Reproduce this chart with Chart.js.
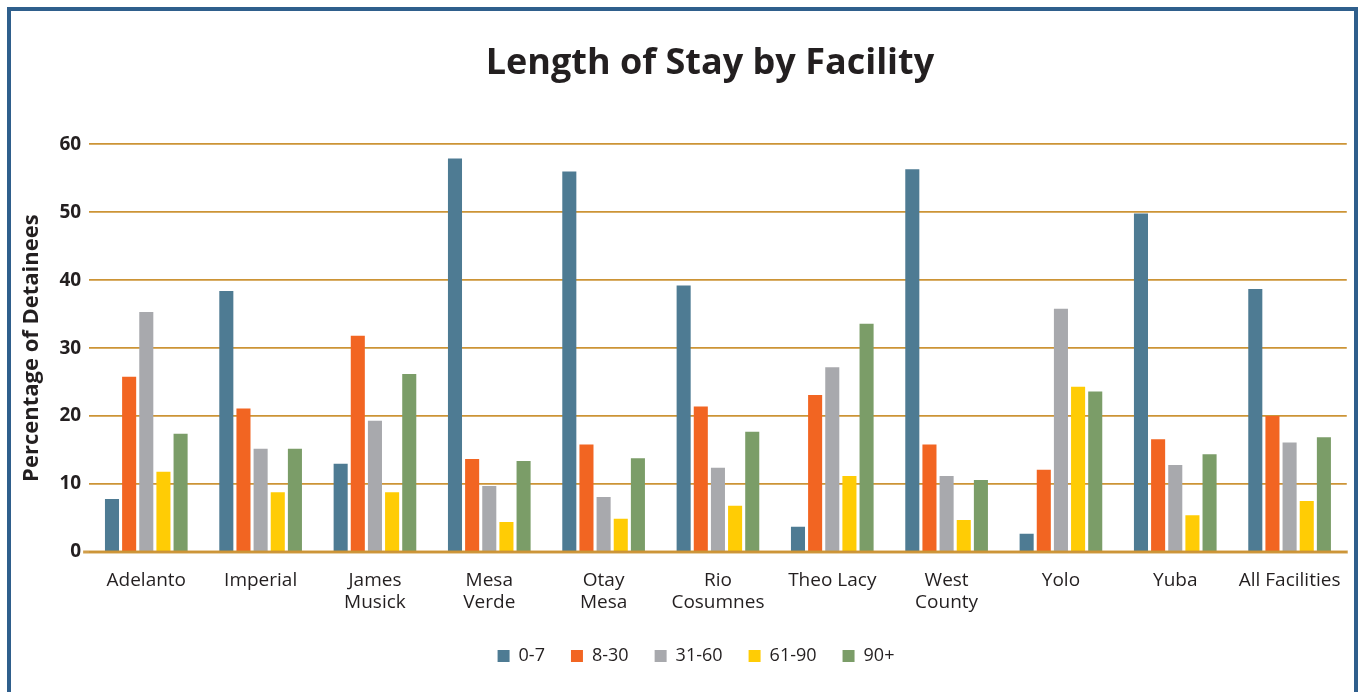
<!DOCTYPE html>
<html>
<head>
<meta charset="utf-8">
<title>Length of Stay by Facility</title>
<script src="https://cdn.jsdelivr.net/npm/chart.js@4/dist/chart.umd.min.js"></script>
<style>
  html, body { margin: 0; padding: 0; background: #ffffff; }
  #wrap { position: relative; width: 1359px; height: 692px; overflow: hidden; }
  #chart { position: absolute; left: 0; top: 0; }
  #frame {
    position: absolute; left: 7px; top: 7px; width: 1343px; height: 720px;
    border: 4px solid #2F5F8C; pointer-events: none;
  }
</style>
</head>
<body>
<div id="wrap">
  <canvas id="chart" width="1359" height="692"></canvas>
  <div id="frame"></div>
</div>
<script>
// Facilities (multi-word names wrap onto two lines)
const facilities = [
  'Adelanto', 'Imperial', ['James', 'Musick'], ['Mesa', 'Verde'], ['Otay', 'Mesa'],
  ['Rio', 'Cosumnes'], 'Theo Lacy', ['West', 'County'], 'Yolo', 'Yuba', 'All Facilities'
];

// Length-of-stay groups (days)
const stayGroups = ['0-7', '8-30', '31-60', '61-90', '90+'];

// Percentage of detainees in each stay group, per facility
const days0to7   = [7.8, 38.4, 13.0, 57.9, 56.0, 39.2, 3.7, 56.3, 2.7, 49.8, 38.7];
const days8to30  = [25.8, 21.1, 31.8, 13.7, 15.8, 21.4, 23.1, 15.8, 12.1, 16.6, 20.0];
const days31to60 = [35.3, 15.2, 19.3, 9.7, 8.1, 12.4, 27.2, 11.2, 35.8, 12.8, 16.1];
const days61to90 = [11.8, 8.8, 8.8, 4.4, 4.9, 6.8, 11.2, 4.7, 24.3, 5.4, 7.5];
const days90plus = [17.4, 15.2, 26.2, 13.4, 13.8, 17.7, 33.6, 10.6, 23.6, 14.4, 16.9];

// Y axis tick values
const yTicks = [0, 10, 20, 30, 40, 50, 60];

const seriesValues = [days0to7, days8to30, days31to60, days61to90, days90plus];
const seriesColors = ['#4E7B93', '#F26522', '#A8A9AD', '#FFCC05', '#7B9D68'];

const FONT = '"Open Sans", "Noto Sans", sans-serif';
const INK = '#231F20';
const GOLD = '#CC9436';

// Heavy gold baseline drawn over the foot of the bars
const baselinePlugin = {
  id: 'baseline',
  afterDatasetsDraw(chart) {
    const y = chart.scales.y.getPixelForValue(0);
    const { left, right } = chart.chartArea;
    const ctx = chart.ctx;
    ctx.save();
    ctx.strokeStyle = 'rgba(204,148,54,0.9)';
    ctx.lineWidth = 3;
    ctx.beginPath();
    ctx.moveTo(left - 6, y);
    ctx.lineTo(right + 1, y);
    ctx.stroke();
    ctx.restore();
  }
};

// Small horizontal nudges for the title and legend blocks
const nudgePlugin = {
  id: 'nudge',
  afterLayout(chart) {
    const shift = (box, dx) => {
      if (!box) return;
      box.left += dx;
      box.right += dx;
      if (box.legendHitBoxes) box.legendHitBoxes.forEach(h => { h.left += dx; });
    };
    shift(chart.titleBlock, -8);
    shift(chart.legend, 15);
  }
};

new Chart(document.getElementById('chart'), {
  type: 'bar',
  data: {
    labels: facilities,
    datasets: stayGroups.map((name, i) => ({
      label: name,
      data: seriesValues[i],
      backgroundColor: seriesColors[i],
      borderWidth: 0,
      categoryPercentage: 0.75,
      barPercentage: 0.82
    }))
  },
  plugins: [baselinePlugin, nudgePlugin],
  options: {
    responsive: false,
    devicePixelRatio: 1,
    animation: false,
    layout: { padding: { left: 14, right: 11, top: 0, bottom: 17 } },
    plugins: {
      title: {
        display: true,
        text: 'Length of Stay by Facility',
        fullSize: false,
        color: INK,
        font: { family: FONT, size: 36, weight: 'bold' },
        padding: { top: 42, bottom: 59 }
      },
      legend: {
        position: 'bottom',
        labels: {
          boxWidth: 12,
          boxHeight: 12,
          padding: 26,
          color: INK,
          font: { family: FONT, size: 18 }
        }
      },
      tooltip: { enabled: false }
    },
    scales: {
      x: {
        grid: { display: false, drawTicks: false },
        border: { display: false },
        ticks: {
          color: INK,
          padding: 18,
          maxRotation: 0,
          autoSkip: false,
          font: { family: FONT, size: 19, lineHeight: 1.15 }
        },
        afterFit(scale) { scale.height = 69; }
      },
      y: {
        min: 0,
        max: 60,
        afterBuildTicks(scale) { scale.ticks = yTicks.map(v => ({ value: v })); },
        grid: { color: GOLD, lineWidth: 1.8, drawTicks: false },
        border: { display: false },
        ticks: {
          color: INK,
          padding: 8,
          font: { family: FONT, size: 19, weight: 'bold' }
        },
        title: {
          display: true,
          text: 'Percentage of Detainees',
          color: INK,
          font: { family: FONT, size: 22, weight: 'bold' },
          padding: { top: 5, bottom: 6 }
        }
      }
    }
  }
});
</script>
</body>
</html>
